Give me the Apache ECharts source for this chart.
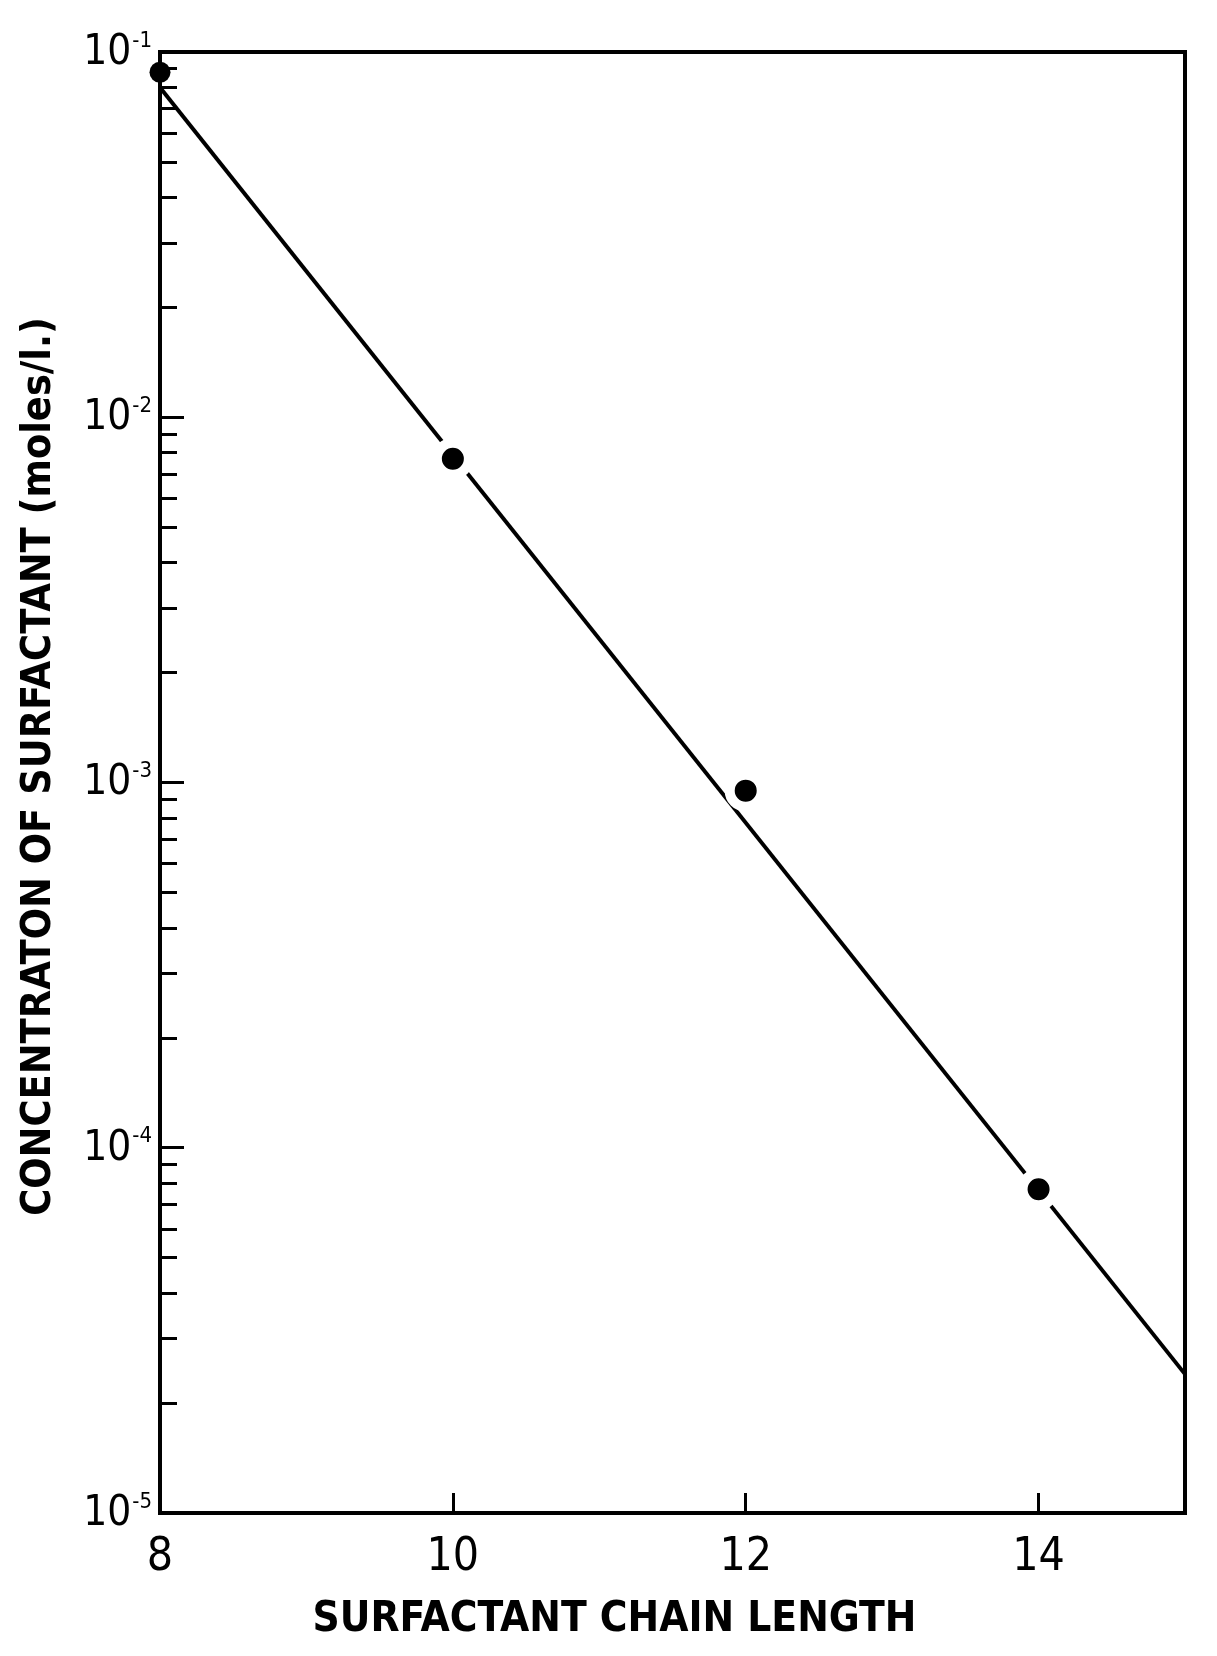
<!DOCTYPE html>
<html>
<head>
<meta charset="utf-8">
<script src="https://cdn.jsdelivr.net/npm/echarts@6/dist/echarts.min.js"></script>
<style>
html,body{margin:0;padding:0;background:#fff;}
#chart{width:1217px;height:1656px;}
</style>
</head>
<body>
<div id="chart"></div>
<script>
// ---- data ----
const chainLength = [8, 10, 12, 14];
const concentration = [0.088, 0.0077, 0.00095, 0.000077];
const fitX = [8, 15];
const fitY = [0.080, 0.000024];
const xTickValues = [8, 10, 12, 14];
const yDecades = [1e-5, 1e-4, 1e-3, 1e-2, 1e-1];
const yExponents = ['-5', '-4', '-3', '-2', '-1'];
const xTitle = 'SURFACTANT CHAIN LENGTH';
const yTitle = 'CONCENTRATON OF SURFACTANT (moles/l.)';

// minor tick positions (2..9 within each decade)
const yMinor = [];
for (let d = 0; d < yDecades.length - 1; d++) {
  for (let m = 2; m <= 9; m++) yMinor.push(yDecades[d] * m);
}

const FONT = "'DejaVu Sans Condensed', 'Liberation Sans', sans-serif";

const chart = echarts.init(document.getElementById('chart'));
chart.setOption({
  animation: false,
  backgroundColor: '#fff',
  grid: {
    left: 160, right: 32, top: 52, bottom: 143,
    show: true, borderColor: '#000', borderWidth: 4, backgroundColor: 'transparent'
  },
  xAxis: {
    type: 'value', min: 8, max: 15, interval: 1,
    axisLine: { show: false },
    splitLine: { show: false },
    axisTick: { show: true, inside: true, length: 20, lineStyle: { color: '#000', width: 3 }, customValues: xTickValues },
    axisLabel: {
      customValues: xTickValues, margin: 22, color: '#000',
      fontFamily: FONT, fontWeight: 'normal', fontSize: 46
    },
    name: xTitle, nameLocation: 'middle', nameGap: 86,
    nameTextStyle: { fontFamily: FONT, fontWeight: 'bold', fontSize: 42, color: '#000', padding: [0, 116, 0, 0] }
  },
  yAxis: [{
    type: 'log', logBase: 10, min: 1e-5, max: 1e-1,
    axisLine: { show: false },
    splitLine: { show: false },
    minorTick: { show: false },
    axisTick: { show: true, inside: true, length: 24, lineStyle: { color: '#000', width: 3 }, customValues: yDecades },
    axisLabel: {
      customValues: yDecades, margin: 8,
      formatter: function (v) {
        const i = yDecades.findIndex(d => Math.abs(Math.log10(d) - Math.log10(v)) < 1e-6);
        return '{b|10}{s|' + (i >= 0 ? yExponents[i] : '') + '}';
      },
      rich: {
        b: { fontFamily: FONT, fontSize: 42, color: '#000', verticalAlign: 'bottom', lineHeight: 44 },
        s: { fontFamily: FONT, fontSize: 22, color: '#000', verticalAlign: 'top', lineHeight: 44, padding: [0, 0, 0, 1] }
      }
    },
    name: yTitle, nameLocation: 'middle', nameGap: 100, nameRotate: 90,
    nameTextStyle: { fontFamily: FONT, fontWeight: 'bold', fontSize: 41, color: '#000', padding: [0, 0, 0, 32] }
  }, {
    type: 'log', logBase: 10, min: 1e-5, max: 1e-1, position: 'left',
    axisLine: { show: false },
    splitLine: { show: false },
    axisLabel: { show: false },
    axisTick: { show: true, inside: true, length: 17, lineStyle: { color: '#000', width: 3 }, customValues: yMinor }
  }],
  series: [{
    type: 'line',
    data: fitX.map((x, i) => [x, fitY[i]]),
    showSymbol: false,
    lineStyle: { color: '#000', width: 4 },
    z: 2
  }, {
    type: 'scatter',
    data: chainLength.map((x, i) => ({
      value: [x, concentration[i]],
      symbolSize: i === 0 ? 21 : 32,
      itemStyle: i === 0 ? { color: '#000', borderWidth: 0, opacity: 1 } : { color: '#000', borderColor: '#fff', borderWidth: 10, opacity: 1 }
    })),
    symbol: 'circle',
    itemStyle: { opacity: 1 },
    z: 3
  }]
});
</script>
</body>
</html>
